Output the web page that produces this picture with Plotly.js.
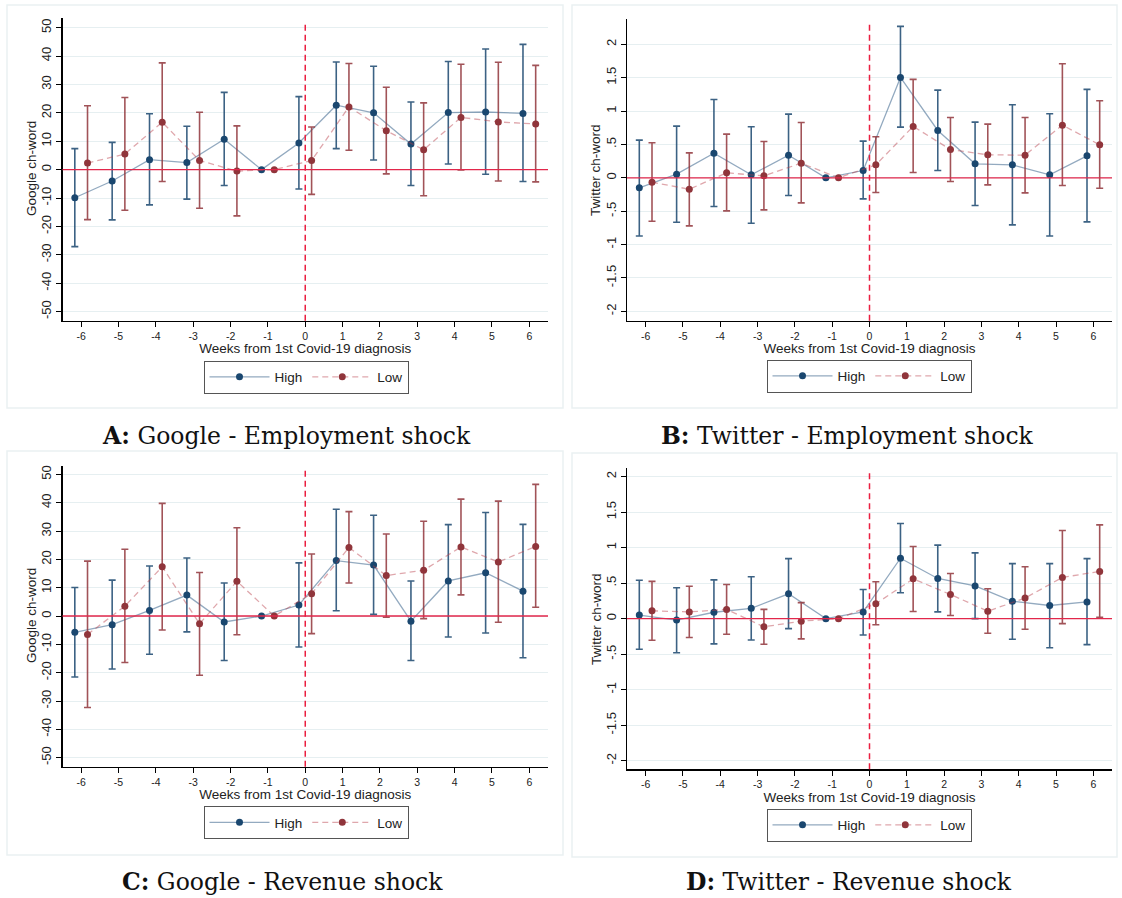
<!DOCTYPE html>
<html>
<head>
<meta charset="utf-8">
<script src="https://cdn.plot.ly/plotly-3.0.1.min.js"></script>
<style>html,body{margin:0;padding:0;background:#fff;}#chart{width:1122px;height:898px;}</style>
</head>
<body>
<div id="chart"></div>
<script>
// ---------- DATA ----------
const weeks = [-6, -5, -4, -3, -2, -1, 0, 1, 2, 3, 4, 5, 6];
const eventWeek = 0;
const baseline = 0;

// Panel A: Google - Employment shock
const A_high    = [-9.9, -4.0, 3.5, 2.5, 10.7, 0, 9.4, 22.7, 20.0, 9.0, 20.1, 20.3, 19.8];
const A_high_lo = [-27.1, -17.7, -12.4, -10.4, -5.6, 0, -6.8, 7.4, 3.4, -5.6, 2.0, -1.6, -4.2];
const A_high_hi = [7.4, 9.6, 19.7, 15.3, 27.2, 0, 25.7, 37.9, 36.4, 23.8, 38.1, 42.5, 44.1];
const A_low     = [2.3, 5.5, 16.7, 3.2, -0.5, 0, 3.2, 22.1, 13.7, 7.0, 18.4, 16.8, 16.1];
const A_low_lo  = [-17.6, -14.3, -4.2, -13.6, -16.3, 0, -8.7, 6.8, -1.5, -9.2, -0.1, -4.0, -4.3];
const A_low_hi  = [22.5, 25.4, 37.6, 20.2, 15.4, 0, 15.0, 37.4, 29.0, 23.5, 37.1, 37.8, 36.7];

// Panel B: Twitter - Employment shock
const B_high    = [-0.15, 0.055, 0.37, 0.045, 0.34, 0, 0.11, 1.505, 0.71, 0.21, 0.195, 0.045, 0.33];
const B_high_lo = [-0.87, -0.665, -0.43, -0.68, -0.265, 0, -0.315, 0.76, 0.11, -0.415, -0.705, -0.87, -0.66];
const B_high_hi = [0.565, 0.775, 1.175, 0.765, 0.955, 0, 0.55, 2.27, 1.315, 0.835, 1.095, 0.96, 1.325];
const B_low     = [-0.065, -0.17, 0.075, 0.03, 0.22, 0, 0.195, 0.77, 0.425, 0.345, 0.34, 0.79, 0.495];
const B_low_lo  = [-0.65, -0.72, -0.495, -0.48, -0.375, 0, -0.22, 0.08, -0.055, -0.105, -0.225, -0.115, -0.155];
const B_low_hi  = [0.525, 0.375, 0.655, 0.545, 0.83, 0, 0.615, 1.475, 0.905, 0.805, 0.905, 1.71, 1.155];

// Panel C: Google - Revenue shock
const C_high    = [-5.75, -3.05, 2.0, 7.4, -2.1, 0, 3.9, 19.6, 18.0, -1.8, 12.4, 15.3, 8.8];
const C_high_lo = [-21.5, -18.7, -13.5, -5.6, -15.7, 0, -10.9, 1.9, 0.6, -15.7, -7.4, -6.0, -14.7];
const C_high_hi = [10.1, 12.7, 17.7, 20.5, 11.7, 0, 18.8, 37.7, 35.6, 12.4, 32.3, 36.6, 32.4];
const C_low     = [-6.5, 3.5, 17.4, -2.7, 12.3, 0, 7.9, 24.2, 14.3, 16.2, 24.4, 19.1, 24.6];
const C_low_lo  = [-32.3, -16.4, -4.9, -20.9, -6.6, 0, -6.2, 11.7, -0.4, -0.9, 7.5, -2.2, 3.1];
const C_low_hi  = [19.4, 23.6, 39.8, 15.4, 31.2, 0, 21.9, 36.9, 29.0, 33.5, 41.3, 40.6, 46.5];

// Panel D: Twitter - Revenue shock
const D_high    = [0.05, -0.02, 0.09, 0.145, 0.35, 0, 0.095, 0.85, 0.565, 0.46, 0.245, 0.185, 0.235];
const D_high_lo = [-0.43, -0.48, -0.355, -0.30, -0.14, 0, -0.23, 0.365, 0.095, 0.0, -0.29, -0.41, -0.365];
const D_high_hi = [0.54, 0.435, 0.545, 0.59, 0.845, 0, 0.41, 1.34, 1.035, 0.925, 0.775, 0.775, 0.845];
const D_low     = [0.11, 0.095, 0.13, -0.115, -0.035, 0, 0.21, 0.56, 0.34, 0.105, 0.29, 0.58, 0.665];
const D_low_lo  = [-0.305, -0.265, -0.22, -0.36, -0.285, 0, -0.085, 0.10, 0.045, -0.205, -0.15, -0.07, 0.02];
const D_low_hi  = [0.525, 0.455, 0.48, 0.13, 0.225, 0, 0.52, 1.015, 0.635, 0.42, 0.73, 1.24, 1.32];

const seriesNames = ["High", "Low"];
const googleTicks = [-50, -40, -30, -20, -10, 0, 10, 20, 30, 40, 50];
const googleTickText = ["-50", "-40", "-30", "-20", "-10", "0", "10", "20", "30", "40", "50"];
const twitterTicks = [-2, -1.5, -1, -0.5, 0, 0.5, 1, 1.5, 2];
const twitterTickText = ["-2", "-1.5", "-1", "-.5", "0", ".5", "1", "1.5", "2"];
const xTitle = "Weeks from 1st Covid-19 diagnosis";
const captions = [
  ["A:", "Google - Employment shock"],
  ["B:", "Twitter - Employment shock"],
  ["C:", "Google - Revenue shock"],
  ["D:", "Twitter - Revenue shock"]
];
const yTitles = ["Google ch-word", "Twitter ch-word", "Google ch-word", "Twitter ch-word"];

// ---------- STYLE ----------
const W = 1122, H = 898;
const NAVY = "#1a476f", MAROON = "#90353b";
const FONT = "Liberation Sans, Arial, sans-serif";
const OFFSET = 0.17;

const panels = [
  {high: A_high, hlo: A_high_lo, hhi: A_high_hi, low: A_low, llo: A_low_lo, lhi: A_low_hi,
   px: [62.5, 548], py: [18, 320.7], yr: [-53.2, 53.4], tv: googleTicks, tt: googleTickText,
   box: [7, 5, 563, 408], leg: [306, 377], cap: [286, 436], yt: [31, 169]},
  {high: B_high, hlo: B_high_lo, hhi: B_high_hi, low: B_low, llo: B_low_lo, lhi: B_low_hi,
   px: [627, 1112], py: [19, 320.7], yr: [-2.14, 2.38], tv: twitterTicks, tt: twitterTickText,
   box: [572, 5, 1117, 408], leg: [869, 376], cap: [848, 436], yt: [596, 170]},
  {high: C_high, hlo: C_high_lo, hhi: C_high_hi, low: C_low, llo: C_low_lo, lhi: C_low_hi,
   px: [62.5, 548], py: [466, 766.7], yr: [-53.2, 53.0], tv: googleTicks, tt: googleTickText,
   box: [7, 451, 563, 855], leg: [306, 822.5], cap: [282, 882], yt: [31, 616]},
  {high: D_high, hlo: D_high_lo, hhi: D_high_hi, low: D_low, llo: D_low_lo, lhi: D_low_hi,
   px: [627, 1112], py: [468, 769.3], yr: [-2.12, 2.12], tv: twitterTicks, tt: twitterTickText,
   box: [572, 453, 1117, 857], leg: [869, 825], cap: [849, 882], yt: [596, 619]}
];

const traces = [];
const layout = {
  width: W, height: H,
  margin: {l: 0, r: 0, t: 0, b: 0},
  paper_bgcolor: "#fff", plot_bgcolor: "#fff",
  showlegend: true,
  font: {family: FONT, color: "#222"},
  shapes: [], annotations: []
};

panels.forEach((p, i) => {
  const n = i + 1;
  const xa = "x" + (n === 1 ? "" : n), ya = "y" + (n === 1 ? "" : n);
  const xk = "xaxis" + (n === 1 ? "" : n), yk = "yaxis" + (n === 1 ? "" : n);
  const lk = "legend" + (n === 1 ? "" : n);

  const xHigh = weeks.map(w => w - OFFSET);
  const xLow = weeks.map(w => w + OFFSET);

  traces.push({
    type: "scatter", mode: "lines+markers", name: seriesNames[0],
    x: xHigh, y: p.high, xaxis: xa, yaxis: ya, legend: lk,
    line: {color: "rgba(40,85,130,0.5)", width: 1.3},
    marker: {color: NAVY, size: 7},
    error_y: {type: "data", symmetric: false,
      array: p.hhi.map((v, k) => v - p.high[k]),
      arrayminus: p.high.map((v, k) => v - p.hlo[k]),
      color: "rgba(26,71,111,0.85)", thickness: 1.6, width: 3.5},
    hoverinfo: "skip"
  });
  traces.push({
    type: "scatter", mode: "lines+markers", name: seriesNames[1],
    x: xLow, y: p.low, xaxis: xa, yaxis: ya, legend: lk,
    line: {color: "rgba(185,60,70,0.45)", width: 1.3, dash: "6px,4px"},
    marker: {color: MAROON, size: 7},
    error_y: {type: "data", symmetric: false,
      array: p.lhi.map((v, k) => v - p.low[k]),
      arrayminus: p.low.map((v, k) => v - p.llo[k]),
      color: "rgba(144,53,59,0.85)", thickness: 1.6, width: 3.5},
    hoverinfo: "skip"
  });

  layout[xk] = {
    domain: [p.px[0] / W, p.px[1] / W], anchor: ya,
    range: [-6.5, 6.5], tickvals: weeks, ticktext: weeks.map(String),
    showgrid: false, zeroline: false, showline: true, linecolor: "#000", linewidth: 1.2,
    ticks: "outside", ticklen: 5, tickcolor: "#000", tickwidth: 1,
    tickfont: {size: 10.5, family: FONT, color: "#222"},
    title: {text: xTitle, font: {size: 13.5, family: FONT, color: "#222"}, standoff: 3},
    fixedrange: true
  };
  layout[yk] = {
    domain: [1 - p.py[1] / H, 1 - p.py[0] / H], anchor: xa,
    range: p.yr, tickvals: p.tv, ticktext: p.tt, tickangle: -90,
    showgrid: true, gridcolor: "#e6eff1", gridwidth: 1,
    zeroline: false,
    showline: true, linecolor: "#000", linewidth: 1.2,
    ticks: "outside", ticklen: 5, tickcolor: "#000", tickwidth: 1,
    tickfont: {size: 13, family: FONT, color: "#222"},
    fixedrange: true
  };
  layout[lk] = {
    x: p.leg[0] / W, y: 1 - p.leg[1] / H, xanchor: "center", yanchor: "middle",
    orientation: "h", bordercolor: "#555", borderwidth: 1, bgcolor: "#fff",
    font: {size: 13.5, family: FONT, color: "#222"}, itemwidth: 60,
    xref: "paper", yref: "paper"
  };

  // graph region frame
  layout.shapes.push({type: "rect", xref: "paper", yref: "paper",
    x0: p.box[0] / W, x1: p.box[2] / W, y0: 1 - p.box[3] / H, y1: 1 - p.box[1] / H,
    line: {color: "#eaf1f2", width: 1.5}, fillcolor: "rgba(0,0,0,0)", layer: "below"});
  // horizontal reference line at zero
  layout.shapes.push({type: "line", xref: xa + " domain", yref: ya,
    x0: 0, x1: 1, y0: baseline, y1: baseline,
    line: {color: "#e2274b", width: 1.4}, layer: "above"});
  // vertical event line
  layout.shapes.push({type: "line", xref: xa, yref: ya + " domain",
    x0: eventWeek, x1: eventWeek, y0: 0, y1: 0.985,
    line: {color: "#ea1f40", width: 1.5, dash: "6px,4px"}, layer: "above"});

  // y-axis title
  layout.annotations.push({
    xref: "paper", yref: "paper", x: p.yt[0] / W, y: 1 - p.yt[1] / H,
    xanchor: "center", yanchor: "middle", showarrow: false, textangle: -90,
    text: yTitles[i], font: {size: 13.5, family: FONT, color: "#222"}
  });
  // caption
  layout.annotations.push({
    xref: "paper", yref: "paper", x: p.cap[0] / W, y: 1 - p.cap[1] / H,
    xanchor: "center", yanchor: "middle", showarrow: false,
    text: "<b>" + captions[i][0] + "</b> " + captions[i][1],
    font: {family: "DejaVu Serif, serif", size: 23.5, color: "#111"}
  });
});

Plotly.newPlot("chart", traces, layout, {displayModeBar: false, staticPlot: true});
</script>
</body>
</html>
